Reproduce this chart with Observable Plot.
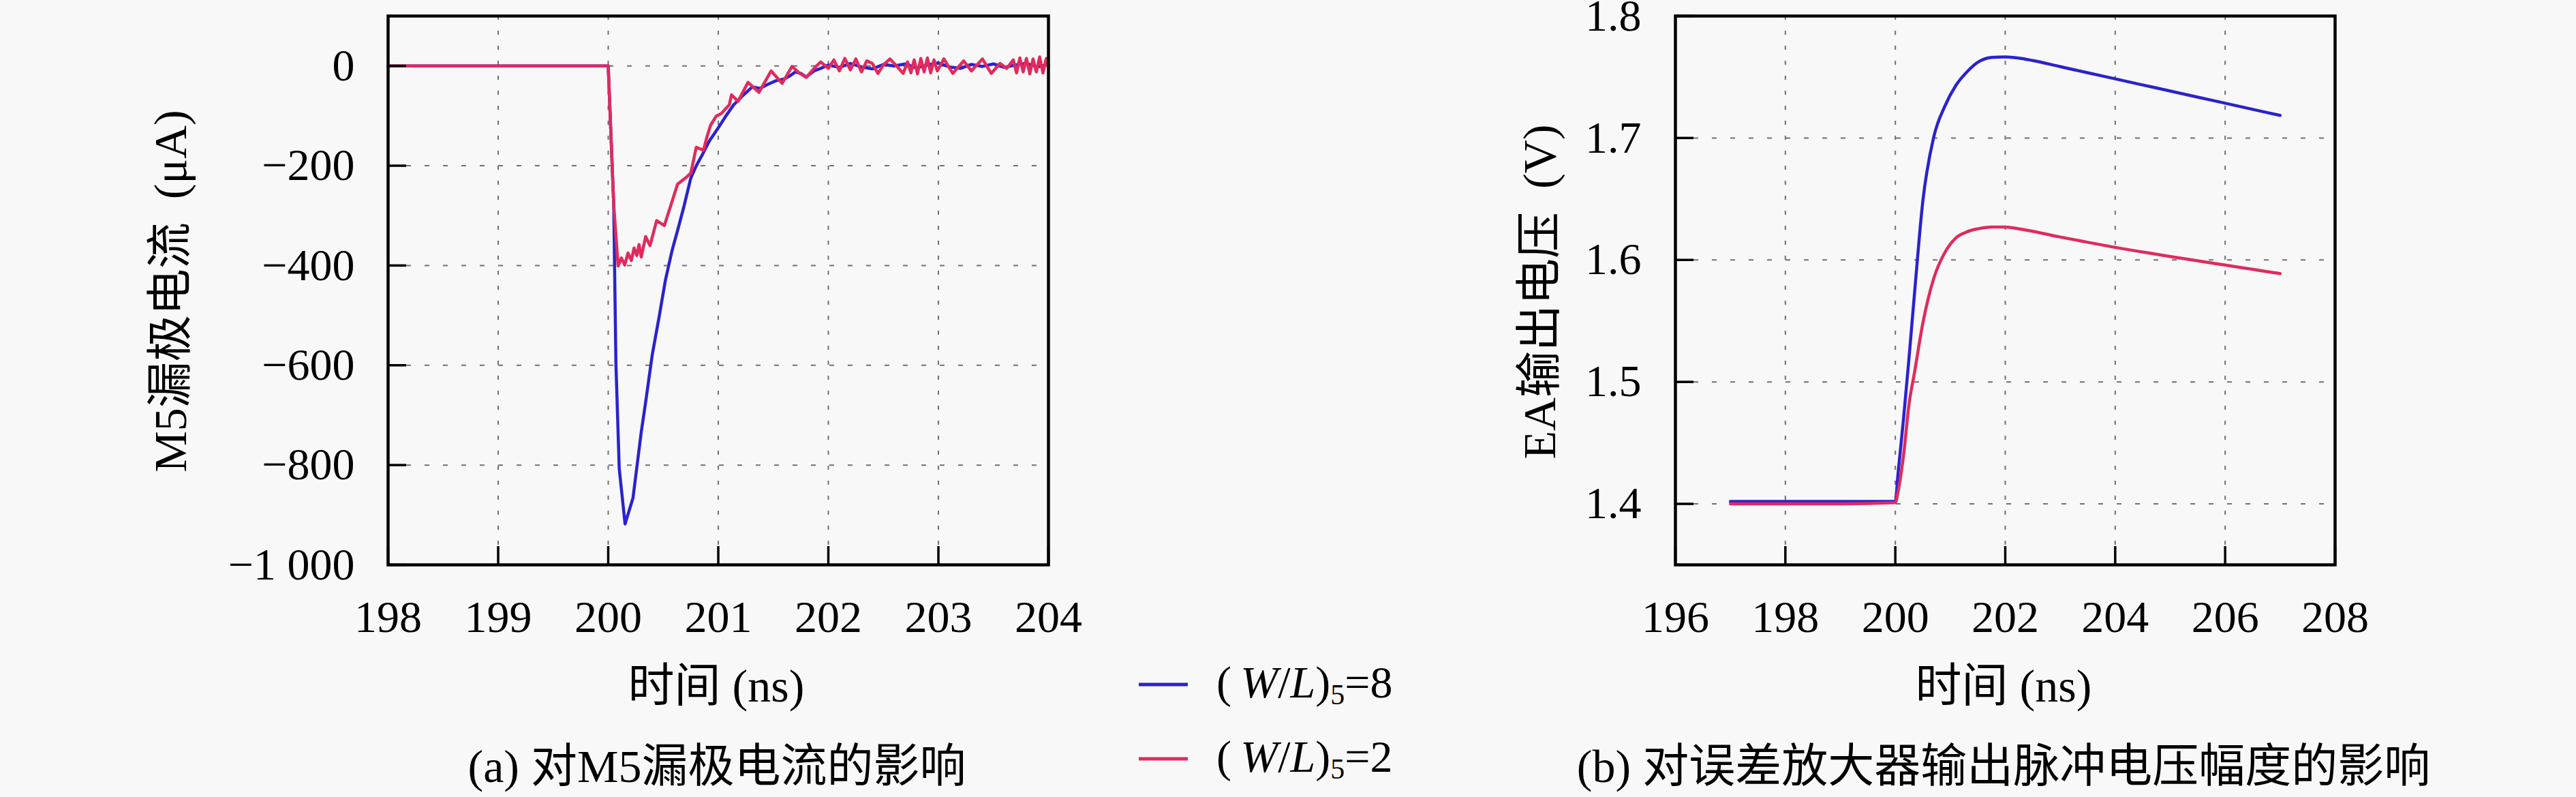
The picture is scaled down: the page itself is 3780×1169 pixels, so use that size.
<!DOCTYPE html>
<html>
<head>
<meta charset="utf-8">
<script src="https://cdn.jsdelivr.net/npm/d3@7"></script>
<script src="https://cdn.jsdelivr.net/npm/@observablehq/plot@0.6"></script>
<style>
  html, body { margin: 0; padding: 0; background: #f8f8f8; }
  #root { position: relative; width: 3780px; height: 1169px; overflow: hidden; background: #f8f8f8;
          font-family: "Liberation Serif", "Noto Sans CJK SC", serif; color: #000; }
  .abs { position: absolute; white-space: nowrap; line-height: 1; }
  .ctr { transform: translate(-50%, -50%); }
  .rot { transform: translate(-50%, -50%) rotate(-90deg); }
  .t68 { font-size: 68px; }
  .sw { position: absolute; height: 5px; width: 72px; transform: translateY(-50%); }
  .leg { font-size: 66px; transform: translateY(-50%); }
  .leg sub { font-size: 42px; vertical-align: -0.25em; }
  svg { overflow: visible; }
</style>
</head>
<body>
<div id="root">
  <div id="pa" class="abs" style="left:0;top:0"></div>
  <div id="pb" class="abs" style="left:1900px;top:0"></div>

  <div class="abs rot t68" style="left:250px;top:427px">M5漏极电流&#8194;(μA)</div>
  <div class="abs ctr t68" style="left:1051px;top:1006px">时间 (ns)</div>
  <div class="abs ctr t68" style="left:1052px;top:1124px">(a) 对M5漏极电流的影响</div>

  <div class="abs rot t68" style="left:2259px;top:428px">EA输出电压&#8194;(V)</div>
  <div class="abs ctr t68" style="left:2940px;top:1006px">时间 (ns)</div>
  <div class="abs ctr t68" style="left:2940px;top:1124px">(b) 对误差放大器输出脉冲电压幅度的影响</div>

  <div id="legend"></div>
</div>
<script>
// ---------- Panel (a): M5 drain current (µA) vs time (ns) ----------
const aXTicks = [198, 199, 200, 201, 202, 203, 204];
const aYTicks = [0, -200, -400, -600, -800, -1000];

const aTimeBlue = [198, 200, 200.05, 200.07, 200.10, 200.153, 200.225, 200.30, 200.34, 200.40, 200.46, 200.52,
  200.58, 200.63, 200.69, 200.75, 200.80, 200.85, 200.92, 201.0, 201.07, 201.14, 201.22, 201.31, 201.38,
  201.45, 201.52, 201.6, 201.65, 201.7, 201.75, 201.8, 201.87, 201.93, 202.0,
  202.1, 202.2, 202.3, 202.4, 202.5, 202.6, 202.7, 202.8, 202.9, 203.0,
  203.1, 203.2, 203.3, 203.4, 203.5, 203.6, 203.7, 203.8, 203.9, 204.0];
const aCurBlue = [0, 0, -278, -597, -807, -918, -866, -734, -674, -579, -506, -429,
  -370, -330, -280, -225, -200, -180, -150, -124, -100, -78, -60, -42, -45,
  -37, -30, -26, -20, -12, -15, -22, -10, -5, 2,
  -3, 5, -2, -6, 3, 0, 4, -4, 2, 6,
  -2, -5, 3, -1, 4, -3, 2, 5, -2, 3];

const aTimeRed = [198, 200, 200.05, 200.09, 200.12, 200.15, 200.18, 200.21, 200.235, 200.26, 200.28, 200.30,
  200.34, 200.38, 200.44, 200.51, 200.63, 200.70, 200.75, 200.80, 200.865, 200.90, 200.93, 200.98, 201.03,
  201.07, 201.10, 201.12, 201.18, 201.27, 201.37, 201.48, 201.58, 201.67, 201.74, 201.80, 201.87, 201.93,
  202.0, 202.05, 202.1, 202.15, 202.2, 202.25, 202.3, 202.35, 202.4, 202.45, 202.5, 202.56, 202.62, 202.68,
  202.72, 202.75, 202.78, 202.81, 202.84, 202.87, 202.9, 202.93, 202.96, 202.99, 203.05, 203.13, 203.23,
  203.3, 203.4, 203.48, 203.56, 203.62, 203.68, 203.71, 203.74, 203.77, 203.80, 203.83, 203.86, 203.89,
  203.92, 203.95, 203.98, 204.0];
const aCurRed = [0, 0, -278, -401, -385, -399, -375, -390, -365, -380, -358, -383,
  -342, -360, -310, -320, -237, -225, -215, -163, -169, -140, -119, -101, -95,
  -85, -78, -58, -71, -33, -53, -10, -35, -1, -15, -23, -5, 8,
  -5, 12, -10, 15, -8, 14, -12, 10, 5, -15, 2, 14, 0, -15,
  8, -14, 12, -16, 15, -12, 16, -14, 12, -10, 14, -15, 10,
  -10, 14, -15, 5, -5, 12, -14, 16, -12, 15, -16, 14, -12,
  18, -14, 15, -5];

// ---------- Panel (b): EA output voltage (V) vs time (ns) ----------
const bXTicks = [196, 198, 200, 202, 204, 206, 208];
const bYTicks = [1.4, 1.5, 1.6, 1.7, 1.8];
const bTime = [197, 198, 199, 200, 200.05, 200.15, 200.25, 200.35, 200.5, 200.7, 200.9, 201.1, 201.3, 201.5,
  201.75, 202.0, 202.25, 202.5, 203.0, 203.5, 204.0, 204.5, 205.0, 205.5, 206.0, 206.5, 207.0];
const bVoltBlue = [1.402, 1.402, 1.402, 1.402, 1.425, 1.47, 1.52, 1.573, 1.648, 1.701, 1.726, 1.743, 1.754, 1.762,
  1.766, 1.7665, 1.7655, 1.7635, 1.7585, 1.7535, 1.7485, 1.7435, 1.7385, 1.7335, 1.7285, 1.7235, 1.7185];
const bVoltRed = [1.400, 1.400, 1.400, 1.401, 1.41, 1.44, 1.482, 1.508, 1.548, 1.585, 1.606, 1.618, 1.623, 1.6255,
  1.627, 1.627, 1.6255, 1.6235, 1.6188, 1.6145, 1.6103, 1.6065, 1.6028, 1.5993, 1.5958, 1.5923, 1.5888];

const seriesNames = ["(W/L)5=8", "(W/L)5=2"];
const colors = ["#2a22d0", "#e22a5c"];

// ---------- build ----------
const FONT = '"Liberation Serif", "Noto Sans CJK SC", serif';
const gridStyle = {stroke: "#707070", strokeOpacity: 1, strokeWidth: 2};

function fmtA(d) {
  if (d === 0) return "0";
  const s = String(Math.abs(d));
  return "\u2212" + (s.length > 3 ? s.slice(0, -3) + " " + s.slice(-3) : s);
}

const tbl = (xs, ys) => xs.map((x, i) => ({x, y: ys[i]}));

const plotA = Plot.plot({
  width: 1600, height: 1169,
  marginLeft: 569, marginRight: 62, marginTop: 23, marginBottom: 341,
  x: {domain: [198, 204]},
  y: {domain: [-1000, 100]},
  style: {background: "transparent", fontFamily: FONT, fontSize: "64px", color: "black", overflow: "visible"},
  marks: [
    Plot.gridX(aXTicks.slice(1, -1), {...gridStyle, strokeDasharray: "6,16"}),
    Plot.gridY(aYTicks.slice(0, -1), {...gridStyle, strokeDasharray: "7,20"}),
    Plot.line(tbl(aTimeBlue, aCurBlue), {x: "x", y: "y", stroke: colors[0], strokeWidth: 4.5}),
    Plot.line(tbl(aTimeRed, aCurRed), {x: "x", y: "y", stroke: colors[1], strokeWidth: 4.5}),
    Plot.axisX(aXTicks, {tickSize: -27, tickPadding: 79, strokeWidth: 3.5, fontSize: 66, label: null, tickFormat: d => String(d)}),
    Plot.axisY(aYTicks, {tickSize: -27, tickPadding: 76, strokeWidth: 3.5, fontSize: 66, label: null, tickFormat: fmtA}),
    Plot.frame({stroke: "black", strokeWidth: 4.5})
  ]
});
document.getElementById("pa").appendChild(plotA);

const plotB = Plot.plot({
  width: 1880, height: 1169,
  marginLeft: 558, marginRight: 354, marginTop: 23, marginBottom: 341,
  x: {domain: [196, 208]},
  y: {domain: [1.35, 1.8]},
  style: {background: "transparent", fontFamily: FONT, fontSize: "64px", color: "black", overflow: "visible"},
  marks: [
    Plot.gridX(bXTicks.slice(1, -1), {...gridStyle, strokeDasharray: "6,16"}),
    Plot.gridY(bYTicks.slice(0, -1), {...gridStyle, strokeDasharray: "7,20"}),
    Plot.line(tbl(bTime, bVoltBlue), {x: "x", y: "y", stroke: colors[0], strokeWidth: 4.5, curve: "monotone-x"}),
    Plot.line(tbl(bTime, bVoltRed), {x: "x", y: "y", stroke: colors[1], strokeWidth: 4.5, curve: "monotone-x"}),
    Plot.axisX(bXTicks, {tickSize: -27, tickPadding: 79, strokeWidth: 3.5, fontSize: 66, label: null, tickFormat: d => String(d)}),
    Plot.axisY(bYTicks, {tickSize: -27, tickPadding: 77, strokeWidth: 3.5, fontSize: 66, label: null, tickFormat: d => d.toFixed(1)}),
    Plot.frame({stroke: "black", strokeWidth: 4.5})
  ]
});
document.getElementById("pb").appendChild(plotB);

// ---------- legend ----------
const leg = document.getElementById("legend");
const legY = [1004, 1113];
seriesNames.forEach((name, i) => {
  const m = name.match(/^\(W\/L\)5=(\d+)$/);
  const sw = document.createElement("div");
  sw.className = "sw";
  sw.style.left = "1671px"; sw.style.top = legY[i] + "px"; sw.style.background = colors[i];
  leg.appendChild(sw);
  const t = document.createElement("div");
  t.className = "abs leg";
  t.style.left = "1785px"; t.style.top = legY[i] + "px";
  t.innerHTML = "(\u2009<i>W</i>/<i>L</i>)<sub>5</sub>=" + m[1];
  leg.appendChild(t);
});
</script>
</body>
</html>
